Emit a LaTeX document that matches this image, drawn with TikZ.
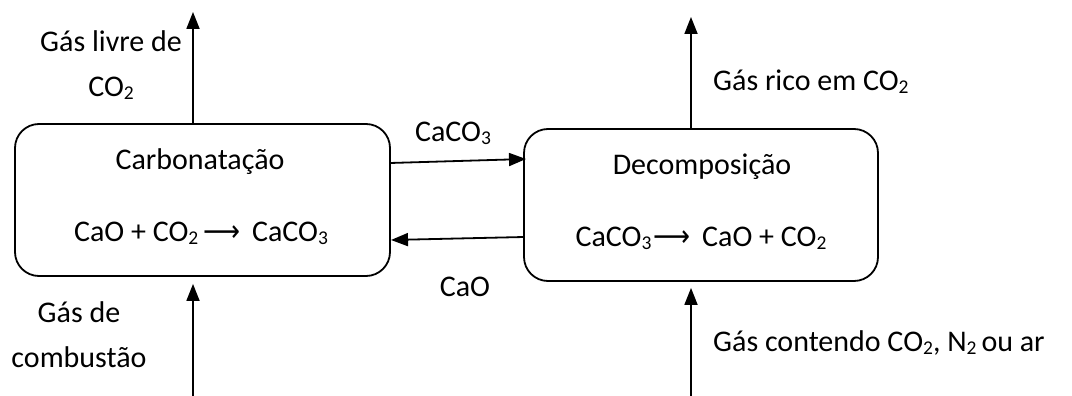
\documentclass[tikz,border=0pt]{standalone}
\usepackage{fontspec}
\setmainfont{Carlito}
\newfontfamily\arrowfont{DejaVu Sans}
\usetikzlibrary{arrows.meta}
% reaction arrow and chemical subscripts
\newcommand{\rxarrow}{\resizebox{37pt}{\height}{\arrowfont ⟶}}
\newcommand{\sub}[1]{\raisebox{-3pt}{\fontsize{19.5}{19.5}\selectfont #1}}
\begin{document}
\begin{tikzpicture}[x=1pt,y=-1pt,
  reactor/.style={draw,line width=1.8pt,rounded corners=24pt,inner sep=0pt},
  flow/.style={line width=1.8pt,-{Triangle[length=17pt,width=13pt]}},
  lbl/.style={inner sep=0pt,align=center,font=\fontsize{30}{45}\selectfont}]
\useasboundingbox (0,0) rectangle (1072,396);

% reactors
\node[reactor,minimum width=375pt,minimum height=152pt] (carb) at (202.5,200) {};
\node[reactor,minimum width=354pt,minimum height=152pt] (dec) at (701,205) {};

\node[lbl] (carbname) at (200,162) {Carbonatação};
\node[lbl] (carbrx) at (201,233) {CaO + CO\sub{2}\,\rxarrow\ \,CaCO\sub{3}};
\node[lbl] (decname) at (702,167) {Decomposição};
\node[lbl] (decrx) at (701,238) {CaCO\sub{3}\hspace{2pt}\rxarrow\ \,CaO + CO\sub{2}};

% gas streams
\coordinate (carbout) at (193,12);
\coordinate (carbin) at (193,396);
\coordinate (decout) at (691,17);
\coordinate (decin) at (691,396);
\draw[flow] (carbout |- carb.north) -- (carbout);
\draw[flow,shorten >=7pt] (carbin) -- (carbin |- carb.south);
\draw[flow] (decout |- dec.north) -- (decout);
\draw[flow,shorten >=6pt] (decin) -- (decin |- dec.south);

% solids loop
\coordinate (s1) at (390,163);
\coordinate (s2) at (526,159);
\coordinate (s3) at (524,237);
\coordinate (s4) at (391,240);
\draw[flow] (s1) -- (s2);
\draw[flow] (s3) -- (s4);

% labels
\node[lbl] (gaslivre) at (111,65) {Gás livre de\\CO\sub{2}};
\node[lbl] (gascomb) at (79,335) {Gás de\\combustão};
\node[lbl] (caco3) at (453,133) {CaCO\sub{3}};
\node[lbl] (cao) at (465,287) {CaO};
\node[lbl,anchor=west] (gasrico) at (713,82) {Gás rico em CO\sub{2}};
\node[lbl,anchor=west] (gascont) at (713,343) {Gás contendo CO\sub{2}, N\sub{2}\,ou ar};
\end{tikzpicture}
\end{document}
